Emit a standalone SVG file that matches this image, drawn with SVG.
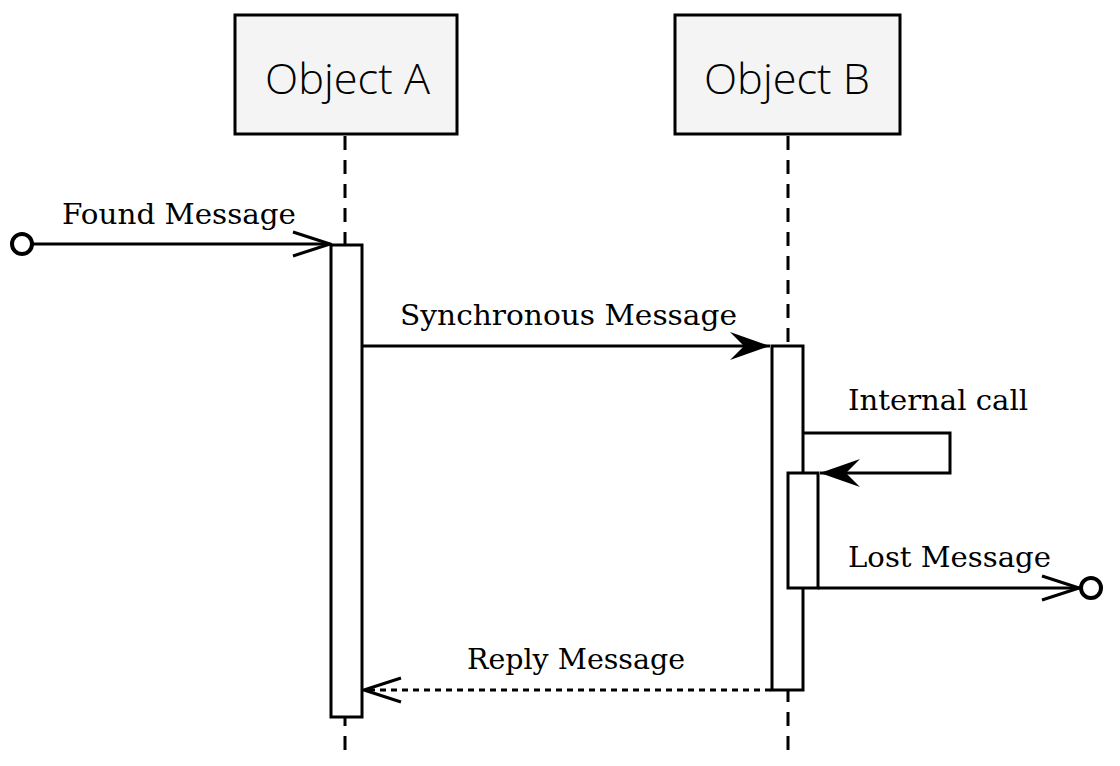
<svg xmlns="http://www.w3.org/2000/svg" width="1120" height="766" viewBox="0 0 1120 766">
<style>
.box{fill:#f4f4f4;stroke:#000;stroke-width:3}
.act{fill:#fff;stroke:#000;stroke-width:3}
.life{stroke:#000;stroke-width:3;stroke-dasharray:14 10;fill:none}
.msg{stroke:#000;stroke-width:3;fill:none}
.title{font-family:"Open Sans","Liberation Sans",sans-serif;font-weight:300;font-size:42px;fill:#000}
.lbl{font-family:"DejaVu Serif","Liberation Serif",serif;font-size:28px;fill:#000}
</style>
<defs>
<marker id="open" viewBox="0 0 40 30" refX="38" refY="15" markerWidth="40" markerHeight="30" markerUnits="userSpaceOnUse" orient="auto"><path d="M1 3 L38 15 L1 27" fill="none" stroke="#000" stroke-width="3"/></marker>
<marker id="filled" viewBox="0 0 40 30" refX="40" refY="15" markerWidth="40" markerHeight="30" markerUnits="userSpaceOnUse" orient="auto"><path d="M0 1 L40 15 L0 29 L14 15 Z" fill="#000"/></marker>
</defs>
<g id="lifelines">
<line class="life" x1="345" y1="136" x2="345" y2="750"/>
<line class="life" x1="788" y1="136" x2="788" y2="750"/>
</g>
<g id="objA"><rect class="box" x="235" y="15" width="222" height="119"/><text class="title" x="265" y="94" textLength="165" lengthAdjust="spacingAndGlyphs">Object A</text></g>
<g id="objB"><rect class="box" x="675" y="15" width="225" height="119"/><text class="title" x="704" y="94" textLength="166" lengthAdjust="spacingAndGlyphs">Object B</text></g>
<g id="actA"><rect class="act" x="331" y="245" width="31" height="472"/></g>
<g id="actB"><rect class="act" x="772" y="346" width="31" height="344"/></g>
<g id="actB2"><rect class="act" x="788" y="473" width="30" height="115"/></g>
<g id="connectors">
<circle cx="22" cy="244" r="10" fill="#fff" stroke="#000" stroke-width="4"/>
<line class="msg" x1="32" y1="244" x2="330" y2="244" marker-end="url(#open)"/>
<line class="msg" x1="362" y1="346" x2="770" y2="346" marker-end="url(#filled)"/>
<polyline class="msg" points="803,433 950,433 950,473 820,473" marker-end="url(#filled)"/>
<line class="msg" x1="818" y1="588" x2="1079" y2="588" marker-end="url(#open)"/>
<circle cx="1091" cy="588" r="10" fill="#fff" stroke="#000" stroke-width="4"/>
<line class="msg" x1="771" y1="690" x2="364" y2="690" stroke-dasharray="6 5" marker-end="url(#open)"/>
</g>
<g id="labels">
<text class="lbl" x="62" y="224" textLength="234" lengthAdjust="spacingAndGlyphs">Found Message</text>
<text class="lbl" x="400" y="325" textLength="337" lengthAdjust="spacingAndGlyphs">Synchronous Message</text>
<text class="lbl" x="848" y="410" textLength="180" lengthAdjust="spacingAndGlyphs">Internal call</text>
<text class="lbl" x="848" y="567" textLength="203" lengthAdjust="spacingAndGlyphs">Lost Message</text>
<text class="lbl" x="467" y="669" textLength="218" lengthAdjust="spacingAndGlyphs">Reply Message</text>
</g>
</svg>
